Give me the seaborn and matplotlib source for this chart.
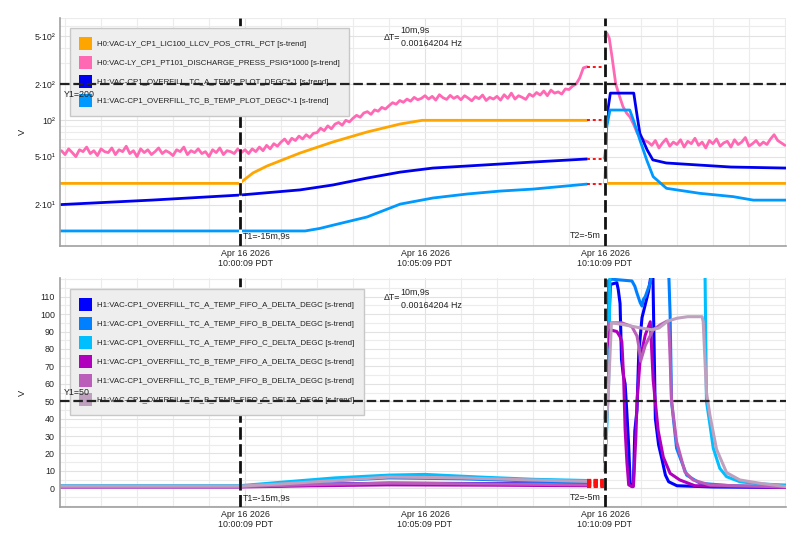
import numpy as np
import pandas as pd
import matplotlib
matplotlib.use("Agg")
import matplotlib.pyplot as plt
import matplotlib.ticker as mticker
from matplotlib.patches import Patch
from matplotlib import font_manager
import seaborn as sns

# ------------------------------------------------------------------ data
# time in minutes relative to Apr 16 2026 10:00:09 PDT
x_ticks = [0, 5, 10]
x_tick_labels = ["Apr 16 2026\n10:00:09 PDT", "Apr 16 2026\n10:05:09 PDT",
                 "Apr 16 2026\n10:10:09 PDT"]
t_start, t_end = -5.14, 15.03
t1_cursor, t2_cursor = -0.15, 10.0
gap_start = 9.5

top_labels = ["H0:VAC-LY_CP1_LIC100_LLCV_POS_CTRL_PCT [s-trend]",
              "H0:VAC-LY_CP1_PT101_DISCHARGE_PRESS_PSIG*1000 [s-trend]",
              "H1:VAC-CP1_OVERFILL_TC_A_TEMP_PLOT_DEGC*-1 [s-trend]",
              "H1:VAC-CP1_OVERFILL_TC_B_TEMP_PLOT_DEGC*-1 [s-trend]"]
top_colors = ["#FFA500", "#FF69B4", "#0000F0", "#0099FF"]
top_yticks = [20, 50, 100, 200, 500]
top_yticklabels = ["2·10¹", "5·10¹", "10²", "2·10²", "5·10²"]
top_ylim = (9.08, 705)
top_y1 = 200

# orange: LLCV position
orange_pre_t = [-5.14, -0.15, 0.22, 0.61, 1.53, 2.44, 3.39, 4.31, 4.92, 9.5]
orange_pre_v = [30, 30, 36.6, 41.8, 53.6, 66.1, 80, 93.2, 100, 100]
orange_post_t = [10.0, 10.05, 15.03]
orange_post_v = [100, 30, 30]

# pink: discharge pressure (sampled every 0.1 min)
pink_pre_t = np.round(np.linspace(-5.1, 9.5, 147), 2)
pink_pre_v = [56, 52, 58, 54, 50, 57, 55, 60, 53, 56,
              51, 58, 55, 54, 59, 52, 57, 55, 61, 53,
              56, 50, 58, 54, 57, 52, 55, 59, 53, 56,
              54, 51, 57, 55, 60, 52, 56, 54, 58, 53,
              55, 50, 57, 54, 59, 52, 56, 55, 53, 58, 54,
              57, 53, 58, 55, 60, 56, 62, 58, 64, 61,
              66, 70, 64, 71, 68, 74, 70, 76, 72, 78,
              79, 86, 82, 90, 85, 93, 96, 91, 100, 97,
              104, 110, 106, 115, 118, 112, 122, 119, 128, 124,
              132, 140, 136, 146, 141, 150, 144, 155, 148, 152,
              160, 150, 158, 147, 163, 154, 149, 161, 152, 158,
              148, 160, 153, 145, 157, 151, 162, 146, 155, 150,
              158, 147, 163, 152, 168, 150, 160, 155, 149, 165,
              158, 170, 162, 175, 160, 178, 168, 172, 165, 182,
              180, 192, 200, 225, 272, 278]
pink_post_t = np.concatenate([[10.0, 10.05, 10.12, 10.2, 10.3, 10.4, 10.5, 10.6,
                               10.7, 10.8, 10.9, 11.0, 11.1, 11.2],
                              np.round(np.linspace(11.3, 15.0, 38), 2)])
pink_post_v = [500, 530, 480, 330, 200, 160, 130, 115, 106, 92, 78, 72, 68, 66,
               62, 68, 59, 65, 70, 61, 66, 63, 69, 60,
               67, 64, 71, 62, 66, 59, 68, 64, 70, 61,
               65, 67, 60, 69, 63, 66, 72, 61, 64, 68,
               62, 66, 63, 70, 76, 68, 65, 62]

# dark blue: TC_A plot
tca_pre_t = [-5.14, -2.6, -0.15, 1.53, 2.44, 3.39, 4.31, 5.22, 6.17, 7.08, 8.0, 9.5]
tca_pre_v = [20, 21.8, 24.0, 26.5, 29.1, 33.2, 37.2, 40.2, 41.8, 43.4, 45.1, 47.8]
tca_post_t = [10.0, 10.02, 10.05, 10.15, 10.8, 10.9, 10.97, 11.17, 11.33, 11.7,
              12.6, 13.5, 15.03]
tca_post_v = [48, 62, 106, 168, 168, 106, 78, 57, 47, 44.3, 42.6, 41, 40.2]

# light blue: TC_B plot
tcb_pre_t = [-5.14, 1.67, 2.08, 2.44, 3.39, 4.31, 5.22, 6.17, 7.08, 8.0, 9.5]
tcb_pre_v = [12.1, 12.1, 12.7, 13.5, 15.8, 20.2, 22.7, 24.5, 25.9, 26.9, 29.6]
tcb_post_t = [10.0, 10.02, 10.05, 10.14, 10.69, 10.79, 10.97, 11.16, 11.34, 11.71,
              12.64, 13.56, 14.12, 15.03]
tcb_post_v = [30, 47, 88.5, 121.7, 121.7, 100.6, 68.7, 46.9, 34.1, 27.3, 24.8,
              23.3, 21.8, 21.8]

bot_labels = ["H1:VAC-CP1_OVERFILL_TC_A_TEMP_FIFO_A_DELTA_DEGC [s-trend]",
              "H1:VAC-CP1_OVERFILL_TC_A_TEMP_FIFO_B_DELTA_DEGC [s-trend]",
              "H1:VAC-CP1_OVERFILL_TC_A_TEMP_FIFO_C_DELTA_DEGC [s-trend]",
              "H1:VAC-CP1_OVERFILL_TC_B_TEMP_FIFO_A_DELTA_DEGC [s-trend]",
              "H1:VAC-CP1_OVERFILL_TC_B_TEMP_FIFO_B_DELTA_DEGC [s-trend]",
              "H1:VAC-CP1_OVERFILL_TC_B_TEMP_FIFO_C_DELTA_DEGC [s-trend]"]
bot_colors = ["#0000FF", "#0080FF", "#00BFFF", "#B000BE", "#BA5EBA", "#BFA0BF"]
bot_yticks = list(range(0, 111, 10))
bot_ylim = (-10.7, 120.7)
bot_y1 = 50

aa_pre_t = [-5.14, -0.15, 1.0, 2.5, 4.0, 6.0, 8.0, 9.5]
aa_pre_v = [1.0, 1.0, 1.5, 2.5, 3.0, 2.8, 2.6, 2.6]
aa_post_t = [10.0, 10.05, 10.15, 10.33, 10.37, 10.42, 10.46, 10.51, 10.56, 10.61,
             10.66, 10.70, 10.75, 10.79, 10.83, 10.89, 10.94, 11.03, 11.21, 11.30,
             11.33, 11.40, 11.49, 11.58, 11.68, 11.77, 12.0, 13.0, 15.03]
aa_post_v = [15, 60, 117, 118, 114, 106, 74, 65, 60, 43, 24, 3, 1, 2, 33, 45, 78,
             98, 113, 125, 125, 40, 25, 17, 7.6, 3.8, 1.5, 0.8, 0.5]

ab_pre_t = [-5.14, -0.15, 1.0, 2.5, 4.0, 6.0, 8.0, 9.5]
ab_pre_v = [1.2, 1.2, 2.5, 4.5, 6.0, 5.5, 4.2, 3.8]
ab_post_t = [10.0, 10.08, 10.19, 10.75, 10.83, 10.89, 10.98, 11.03, 11.07, 11.12,
             11.26, 11.31, 11.77, 11.81, 11.85, 11.99, 12.27, 12.64, 13.5, 15.03]
ab_post_v = [20, 119, 120, 119, 116, 112, 106.5, 104.6, 108.5, 110, 118, 125, 125,
             100, 50, 23, 7.6, 2.9, 1.5, 0.8]

ac_pre_t = [-5.14, -0.15, 1.0, 2.5, 4.0, 5.0, 6.5, 8.0, 9.5]
ac_pre_v = [1.5, 1.5, 3.5, 6.0, 7.6, 8.0, 6.5, 5.2, 4.5]
ac_post_t = [10.0, 10.1, 10.14, 12.78, 12.82, 12.92, 13.01, 13.19, 13.38, 13.75,
             14.31, 15.03]
ac_post_v = [10, 60, 125, 125, 50, 36, 23, 11.5, 6.7, 3.8, 2.5, 1.9]

ba_pre_t = [-5.14, -0.15, 2.0, 4.0, 7.0, 9.5]
ba_pre_v = [0.8, 0.8, 1.5, 2.0, 1.8, 1.5]
ba_post_t = [10.0, 10.05, 10.14, 10.33, 10.42, 10.47, 10.52, 10.56, 10.61, 10.66,
             10.75, 10.79, 10.86, 10.89, 10.98, 11.12, 11.26, 11.34, 11.48, 11.62,
             11.81, 12.08, 12.5, 15.03]
ba_post_v = [30, 80, 91, 90, 87, 84, 63, 34, 15, 2, 1, 1, 30, 50, 74.6, 88, 95.6,
             62, 33, 18, 8.6, 4.8, 1.5, 0.5]

bb_pre_t = [-5.14, -0.15, 2.0, 4.0, 7.0, 9.5]
bb_pre_v = [1.0, 1.0, 2.2, 3.0, 2.5, 2.0]
bb_post_t = [10.0, 10.05, 10.14, 10.47, 10.75, 10.89, 10.94, 10.99, 11.12, 11.34,
             11.55, 11.73, 11.77, 11.81, 11.85, 11.99, 12.22, 12.45, 12.92, 15.03]
bb_post_v = [40, 90, 95, 95, 92.8, 87.4, 81.7, 73, 82, 91, 94, 96, 95, 75, 50,
             26.8, 9.5, 4.8, 1.9, 0.8]

bc_pre_t = [-5.14, -0.15, 1.0, 2.5, 4.0, 6.0, 8.0, 9.5]
bc_pre_v = [1.3, 1.3, 2.5, 4.5, 6.5, 6.0, 4.8, 4.0]
bc_post_t = [10.0, 10.1, 10.18, 10.5, 11.0, 11.3, 11.5, 11.75, 12.0, 12.3, 12.7,
             12.73, 12.82, 12.92, 13.10, 13.38, 13.75, 14.31, 15.03]
bc_post_v = [20, 58, 95, 94, 92, 91, 92, 96, 97.6, 98.5, 98.5, 95.6, 55, 41.5,
             22.4, 9, 4.8, 2.9, 1.0]

cursor_text = ["T1=-15m,9s", "T2=-5m"]
delta_text = ["ΔT=", "10m,9s", "0.00164204 Hz"]

# ------------------------------------------------------------------ build tables
top_parts = [[(orange_pre_t, orange_pre_v), (orange_post_t, orange_post_v)],
             [(pink_pre_t, pink_pre_v), (pink_post_t, pink_post_v)],
             [(tca_pre_t, tca_pre_v), (tca_post_t, tca_post_v)],
             [(tcb_pre_t, tcb_pre_v), (tcb_post_t, tcb_post_v)]]
bot_parts = [[(aa_pre_t, aa_pre_v), (aa_post_t, aa_post_v)],
             [(ab_pre_t, ab_pre_v), (ab_post_t, ab_post_v)],
             [(ac_pre_t, ac_pre_v), (ac_post_t, ac_post_v)],
             [(ba_pre_t, ba_pre_v), (ba_post_t, ba_post_v)],
             [(bb_pre_t, bb_pre_v), (bb_post_t, bb_post_v)],
             [(bc_pre_t, bc_pre_v), (bc_post_t, bc_post_v)]]


def make_frame(names, parts):
    rows = []
    for name, segs in zip(names, parts):
        for k, (tt, vv) in enumerate(segs):
            assert len(tt) == len(vv), (name, k, len(tt), len(vv))
            for a, b in zip(tt, vv):
                rows.append((name, f"{name}#{k}", float(a), float(b)))
    return pd.DataFrame(rows, columns=["series", "seg", "t", "v"])


df_top = make_frame(top_labels, top_parts)
df_bot = make_frame(bot_labels, bot_parts)

# ------------------------------------------------------------------ style
sns.set_theme(style="white")
avail = {f.name for f in font_manager.fontManager.ttflist}
if "Liberation Sans Narrow" in avail:
    FAM, S = "Liberation Sans Narrow", 1.0
else:
    FAM, S = "Liberation Sans", 0.86
plt.rcParams["font.family"] = [FAM, "DejaVu Sans"]
plt.rcParams["axes.unicode_minus"] = False

TXT = "#222222"
PX = 0.72  # points per pixel at 100 dpi

fig = plt.figure(figsize=(8.04, 5.51), dpi=100)
fig.patch.set_facecolor("white")
ax_top = fig.add_axes([60 / 804, 1 - 246 / 551, 726 / 804, 228 / 551])
ax_bot = fig.add_axes([60 / 804, 1 - 507 / 551, 726 / 804, 229 / 551])


def draw_panel(ax, df, labels, colors, parts, lw, red_lw, red_dash):
    sns.lineplot(data=df, x="t", y="v", hue="series", hue_order=labels,
                 palette=colors, units="seg", estimator=None, linewidth=lw,
                 legend=False, ax=ax, zorder=2)
    # gap markers (no data between gap_start and T2)
    for segs in parts:
        last_v = segs[0][1][-1]
        ax.plot([gap_start, t2_cursor], [last_v, last_v], color="#FF1010",
                lw=red_lw, linestyle=(0, red_dash), zorder=3,
                solid_capstyle="butt", dash_capstyle="butt")


draw_panel(ax_top, df_top, top_labels, top_colors, top_parts, 2.0, 1.4, (1.5, 1.5))
draw_panel(ax_bot, df_bot, bot_labels, bot_colors, bot_parts, 2.2, 3.0, (1.0, 0.6))

ax_top.set_yscale("log")
ax_top.set_ylim(*top_ylim)
ax_top.set_yticks(top_yticks)
ax_top.set_yticklabels(top_yticklabels)
ax_top.yaxis.set_minor_locator(mticker.LogLocator(base=10, subs=np.arange(2, 10)))
ax_top.yaxis.set_minor_formatter(mticker.NullFormatter())

ax_bot.set_ylim(*bot_ylim)
ax_bot.set_yticks(bot_yticks)
ax_bot.yaxis.set_minor_locator(mticker.MultipleLocator(5))

for ax, y1, y1_dy, dt_dys, cur_dy in (
        (ax_top, top_y1, -10, (-20, -12, -26), 10),
        (ax_bot, bot_y1, 9, (-20, -14, -27), 9)):
    ax.set_xlim(t_start, t_end)
    ax.set_xticks(x_ticks)
    ax.set_xticklabels(x_tick_labels)
    ax.xaxis.set_minor_locator(mticker.MultipleLocator(1))
    ax.tick_params(axis="both", which="both", length=0, labelsize=7.4 * S,
                   labelcolor=TXT)
    ax.tick_params(axis="x", pad=2.5)
    ax.tick_params(axis="y", pad=3.6)
    for lbl in ax.get_xticklabels():
        lbl.set_linespacing(1.05)
    ax.grid(which="major", color="#e2e2e2", lw=0.8)
    ax.grid(which="minor", color="#ececec", lw=0.8)
    ax.set_axisbelow(True)
    for side in ("top", "right"):
        ax.spines[side].set_visible(False)
    for side in ("left", "bottom"):
        ax.spines[side].set_color("#a0a0a0")
        ax.spines[side].set_linewidth(1.2)
    ax.set_xlabel("")
    ax.set_ylabel("V", fontsize=7.8 * S, color=TXT)
    ax.yaxis.set_label_coords(-33 / 726, 0.5)

    # cursors
    for tc in (t1_cursor, t2_cursor):
        ax.axvline(tc, color="white", lw=2.2, zorder=3.9)
        ax.axvline(tc, color="#111111", lw=2.0, linestyle=(0, (4.5, 1.6)), zorder=4)
    ax.axhline(y1, color="#222222", lw=1.6, linestyle=(0, (4.3, 1.7)), zorder=6)

    fs = 7.4 * S
    ax.annotate(f"Y1={y1}", xy=(0, y1), xycoords=("axes fraction", "data"),
                xytext=(4 * PX, y1_dy * PX), textcoords="offset points",
                ha="left", va="center", fontsize=fs, color=TXT, zorder=7)
    ax.annotate(cursor_text[0], xy=(t1_cursor, 0), xycoords=("data", "axes fraction"),
                xytext=(3 * PX, cur_dy * PX), textcoords="offset points",
                ha="left", va="center", fontsize=fs, color=TXT, zorder=7)
    ax.annotate(cursor_text[1], xy=(t2_cursor, 0), xycoords=("data", "axes fraction"),
                xytext=(-4 * PX, cur_dy * PX), textcoords="offset points",
                ha="right", va="center", fontsize=fs, color=TXT, zorder=7)
    mid = (t1_cursor + t2_cursor) / 2
    ax.annotate(delta_text[0], xy=(mid, 1), xycoords=("data", "axes fraction"),
                xytext=(-22.5 * PX, dt_dys[0] * PX), textcoords="offset points",
                ha="right", va="center", fontsize=fs, color=TXT, zorder=7)
    ax.annotate(delta_text[1], xy=(mid, 1), xycoords=("data", "axes fraction"),
                xytext=(-21.5 * PX, dt_dys[1] * PX), textcoords="offset points",
                ha="left", va="center", fontsize=fs, color=TXT, zorder=7)
    ax.annotate(delta_text[2], xy=(mid, 1), xycoords=("data", "axes fraction"),
                xytext=(-21.5 * PX, dt_dys[2] * PX), textcoords="offset points",
                ha="left", va="center", fontsize=fs, color=TXT, zorder=7)

LEG_FS = 6.8 * 0.84
LEG_PX = LEG_FS / PX  # font size in pixels
for ax, labels, colors, gap_px, h in ((ax_top, top_labels, top_colors, 10, 228),
                                      (ax_bot, bot_labels, bot_colors, 11, 229)):
    handles = [Patch(facecolor=c, edgecolor="none") for c in colors]
    leg = ax.legend(handles, labels, loc="upper left",
                    bbox_to_anchor=(10 / 726, 1 - gap_px / h),
                    bbox_transform=ax.transAxes, borderaxespad=0, frameon=True,
                    fancybox=False, facecolor="#eeeeee", edgecolor="#c8c8c8",
                    framealpha=1.0, fontsize=LEG_FS,
                    handlelength=13.5 / LEG_PX, handleheight=2.15,
                    handletextpad=5 / LEG_PX, labelspacing=6 / LEG_PX,
                    borderpad=9 / LEG_PX)
    leg.get_frame().set_linewidth(1.0)
    for t in leg.get_texts():
        t.set_color(TXT)
    leg.set_zorder(5)

fig.savefig("out.png", dpi=100, facecolor="white")
